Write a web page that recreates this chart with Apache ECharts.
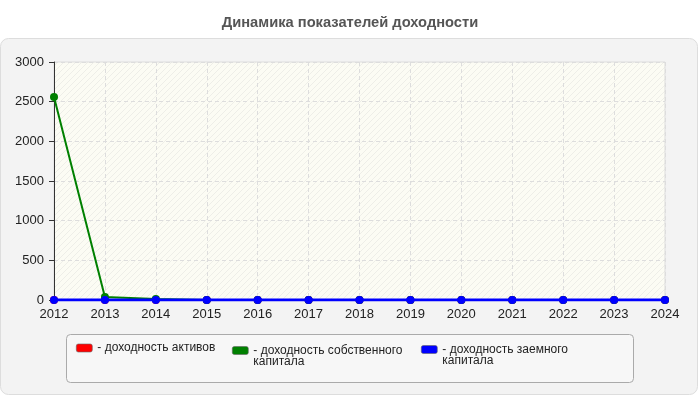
<!DOCTYPE html>
<html>
<head>
<meta charset="utf-8">
<script src="https://cdn.jsdelivr.net/npm/echarts@6/dist/echarts.min.js"></script>
<style>
html,body{margin:0;padding:0;background:#fff;}
#c{width:700px;height:400px;}
</style>
</head>
<body>
<div id="c"></div>
<script>
const titleText = 'Динамика показателей доходности';
const years = ['2012','2013','2014','2015','2016','2017','2018','2019','2020','2021','2022','2023','2024'];
const seriesNames = ['доходность активов', 'доходность собственного капитала', 'доходность заемного капитала'];
const legendLabels = ['- доходность активов', '- доходность собственного\nкапитала', '- доходность заемного\nкапитала'];
const assetsReturn = [0, 0, 0, 0, 0, 0, 0, 0, 0, 0, 0, 0, 0];
const equityReturn = [2560, 38, 14, 0, 0, 0, 0, 0, 0, 0, 0, 0, 0];
const debtReturn = [0, 0, 0, 0, 0, 0, 0, 0, 0, 0, 0, 0, 0];
const yTicks = { min: 0, max: 3000, interval: 500 };
const colors = ['#ff0000', '#008000', '#0000ff'];

const hatch = document.createElement('canvas');
hatch.width = 6; hatch.height = 6;
const hc = hatch.getContext('2d');
hc.fillStyle = '#fcfcf4';
hc.fillRect(0, 0, 6, 6);
hc.strokeStyle = '#eeeee8';
hc.lineWidth = 1;
hc.beginPath();
hc.moveTo(-1, 7); hc.lineTo(7, -1);
hc.moveTo(-1, 1); hc.lineTo(1, -1);
hc.moveTo(5, 7); hc.lineTo(7, 5);
hc.stroke();

const font = '"Liberation Sans", Arial, sans-serif';
const chart = echarts.init(document.getElementById('c'), null, { renderer: 'canvas' });

function legendFor(i, left, top) {
  const multi = legendLabels[i].indexOf('\n') >= 0;
  return {
    left: left, top: top, padding: 0,
    orient: 'horizontal',
    itemWidth: 16, itemHeight: 8,
    icon: 'roundRect',
    data: [{ name: seriesNames[i], itemStyle: { color: colors[i], borderColor: '#666', borderWidth: 0.6 } }],
    formatter: function () {
      return multi ? '\n' + legendLabels[i] : legendLabels[i];
    },
    textStyle: { fontFamily: font, fontSize: 12, color: '#222', lineHeight: 11.5 },
    selectedMode: false
  };
}

const option = {
  animation: false,
  backgroundColor: '#ffffff',
  title: {
    text: titleText, left: 'center', top: 10,
    textStyle: { fontFamily: font, fontSize: 14.7, fontWeight: 'bold', color: '#555' }
  },
  graphic: [
    { type: 'rect', z: -10, shape: { x: 0.5, y: 38.5, width: 697, height: 356, r: 8 },
      style: { fill: '#f3f3f3', stroke: '#dddddd', lineWidth: 1 } },
    { type: 'rect', z: -5, shape: { x: 66.5, y: 334.5, width: 567, height: 48, r: 4 },
      style: { fill: '#f7f7f7', stroke: '#aaaaaa', lineWidth: 1 } }
  ],
  legend: [
    legendFor(0, 76, 342),
    legendFor(1, 232, 333),
    legendFor(2, 421, 332)
  ],
  grid: {
    left: 54, right: 35, top: 62, bottom: 100,
    show: true, borderWidth: 1, borderColor: '#dddddd',
    backgroundColor: { image: hatch, repeat: 'repeat' }
  },
  xAxis: {
    type: 'category', data: years, boundaryGap: false,
    axisLine: { lineStyle: { color: '#333', width: 1 } },
    axisTick: { show: true, length: 4, alignWithLabel: true, lineStyle: { color: '#333' } },
    axisLabel: { fontFamily: font, fontSize: 13, color: '#222', margin: 8, interval: 0 },
    splitLine: { show: true, lineStyle: { color: '#dddddd', type: [4, 3] } }
  },
  yAxis: {
    type: 'value', min: yTicks.min, max: yTicks.max, interval: yTicks.interval,
    axisLine: { show: true, lineStyle: { color: '#333', width: 1 } },
    axisTick: { show: true, length: 5, lineStyle: { color: '#333' } },
    axisLabel: { fontFamily: font, fontSize: 13, color: '#222', margin: 10,
      formatter: function (v) { return String(v); } },
    splitLine: { show: true, lineStyle: { color: '#dddddd', type: [4, 3] } }
  },
  series: [
    { name: seriesNames[0], type: 'line', data: assetsReturn, color: colors[0],
      symbol: 'circle', symbolSize: 8, lineStyle: { width: 2, color: colors[0] }, z: 2 },
    { name: seriesNames[1], type: 'line', data: equityReturn, color: colors[1],
      symbol: 'circle', symbolSize: 8, lineStyle: { width: 2, color: colors[1] }, z: 3 },
    { name: seriesNames[2], type: 'line', data: debtReturn, color: colors[2],
      symbol: 'circle', symbolSize: 8, lineStyle: { width: 3, color: colors[2] }, z: 4 }
  ]
};
chart.setOption(option);
</script>
</body>
</html>
